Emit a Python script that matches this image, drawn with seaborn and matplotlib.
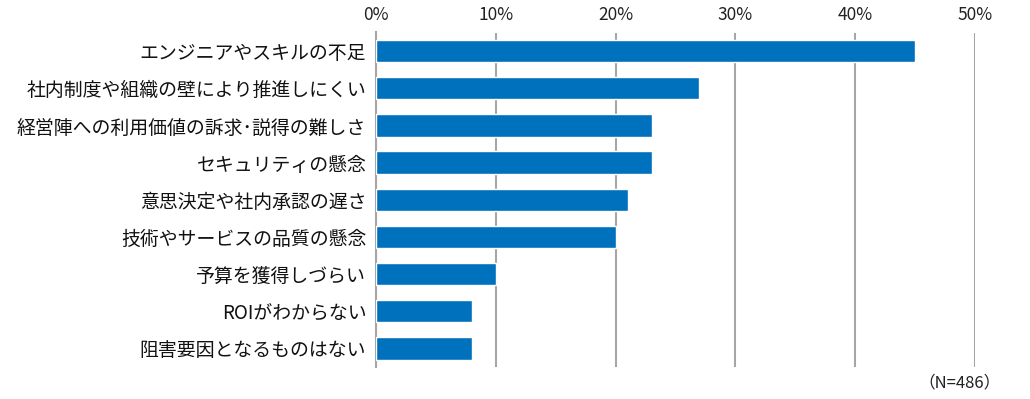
import matplotlib
matplotlib.use("Agg")
import matplotlib.pyplot as plt
import seaborn as sns
import pandas as pd
from matplotlib.ticker import FuncFormatter

categories = [
    "エンジニアやスキルの不足",
    "社内制度や組織の壁により推進しにくい",
    "経営陣への利用価値の訴求･説得の難しさ",
    "セキュリティの懸念",
    "意思決定や社内承認の遅さ",
    "技術やサービスの品質の懸念",
    "予算を獲得しづらい",
    "ROIがわからない",
    "阻害要因となるものはない",
]
values = [45, 27, 23, 23, 21, 20, 10, 8, 8]
x_ticks = [0, 10, 20, 30, 40, 50]
note = "（N=486）"

sns.set_theme(style="white")
plt.rcParams['font.family'] = ['Noto Sans CJK JP', 'DejaVu Sans']

df = pd.DataFrame({"category": categories, "value": values})

fig = plt.figure(figsize=(10.30, 3.99), dpi=100)
ax = fig.add_axes([376/1030, 1-367/399, 599/1030, 334.5/399])

sns.barplot(data=df, y="category", x="value", orient="h", color="#0071BC",
            width=0.6, saturation=1, ax=ax, zorder=3)

ax.set_xlim(0, 50)
ax.set_ylim(8.5, -0.5)
ax.set_xticks(x_ticks)
ax.xaxis.set_major_formatter(FuncFormatter(lambda v, p: f"{int(v)}%"))
ax.xaxis.tick_top()
ax.tick_params(axis='x', length=0, pad=6, labelsize=12.5, colors='#222222')
ax.tick_params(axis='y', length=0, pad=7, labelsize=13.6, colors='#111111')
ax.set_xlabel("")
ax.set_ylabel("")
ax.grid(axis='x', color='#A6A6A6', linewidth=1.5, zorder=0)
ax.grid(axis='y', visible=False)
for s in ['top', 'right', 'bottom']:
    ax.spines[s].set_visible(False)
ax.spines['left'].set_color('#A6A6A6')
ax.spines['left'].set_linewidth(1.5)

fig.text(960/1030, 1-383/399, note, ha='center', va='center', fontsize=12, color='#222222')

fig.savefig("out.png", dpi=100, facecolor='white')
